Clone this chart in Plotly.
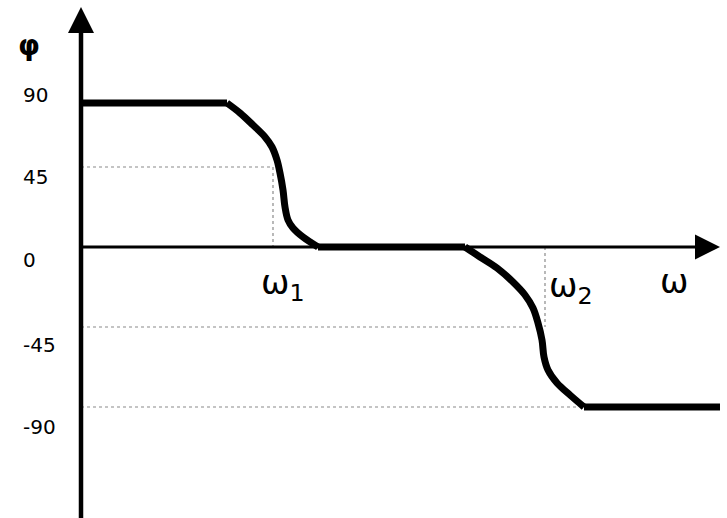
import plotly.graph_objects as go

# ---- data (phase response sketch) ----
# first transition (around omega1)
drop1_w = [146, 159, 172, 184, 191, 196, 199, 202, 204, 207, 212, 222, 237]
drop1_deg = [81, 75.4, 68.6, 61.9, 56.25, 48.9, 41.6, 32.1, 22.5, 15.2, 10.7, 5.6, 0]
# second transition (around omega2)
drop2_w = [384, 399, 416, 432, 444, 452, 457, 461, 463, 467, 476, 489, 503]
drop2_deg = [0, -5.6, -11.8, -19.7, -27, -34.3, -42.75, -52.3, -61.9, -69.2, -76.5, -83.25, -90]
# flat plateaus
high_w = [0, 146]
high_deg = [81, 81]
mid_w = [237, 384]
mid_deg = [0, 0]
low_w = [503, 639]
low_deg = [-90, -90]

omega1 = 192
omega2 = 464
level_pos = 45
level_neg = -45
level_min = -90
guide_neg45_end = 447
guide_neg90_end = 496

tick_labels = ["90", "45", "0", "-45", "-90"]
tick_label_pos = [85.5, 39.4, -7.3, -55.1, -101.25]

FONT = "DejaVu Sans"

fig = go.Figure()

# dotted guide lines
guide_style = dict(color="#8a8a8a", width=1.2, dash="dot")
fig.add_trace(go.Scatter(x=[0, omega1, omega1], y=[level_pos, level_pos, 0],
                         mode="lines", line=guide_style, hoverinfo="skip"))
fig.add_trace(go.Scatter(x=[0, guide_neg45_end], y=[level_neg, level_neg],
                         mode="lines", line=guide_style, hoverinfo="skip"))
fig.add_trace(go.Scatter(x=[omega2, omega2], y=[0, level_neg],
                         mode="lines", line=guide_style, hoverinfo="skip"))
fig.add_trace(go.Scatter(x=[0, guide_neg90_end], y=[level_min, level_min],
                         mode="lines", line=guide_style, hoverinfo="skip"))

# phase curve
for xs, ys, shp in [(high_w, high_deg, "linear"), (drop1_w, drop1_deg, "spline"),
                    (mid_w, mid_deg, "linear"), (drop2_w, drop2_deg, "spline"),
                    (low_w, low_deg, "linear")]:
    line = dict(color="black", width=7, shape=shp)
    if shp == "spline":
        line["smoothing"] = 1.0
    fig.add_trace(go.Scatter(x=xs, y=ys, mode="lines", line=line, hoverinfo="skip"))

shapes = [
    # x axis
    dict(type="line", xref="x", yref="y", x0=0, x1=620, y0=0, y1=0,
         line=dict(color="black", width=3)),
    dict(type="path", xref="x", yref="y", path="M 614 7.0 L 639 0 L 614 -7.0 Z",
         fillcolor="black", line=dict(color="black", width=0)),
    # y axis
    dict(type="line", xref="x", yref="y", x0=0, x1=0, y0=-153, y1=122,
         line=dict(color="black", width=4.5)),
    dict(type="path", xref="x", yref="y", path="M -13 120.4 L 0 135 L 13 120.4 Z",
         fillcolor="black", line=dict(color="black", width=0)),
]

annotations = []
for lab, pos in zip(tick_labels, tick_label_pos):
    annotations.append(dict(x=-60, y=pos, xref="x", yref="y", text=lab,
                            showarrow=False, xanchor="left", yanchor="middle",
                            font=dict(family=FONT, size=20, color="black")))
annotations += [
    dict(x=-52, y=113.6, xref="x", yref="y", text="<b>φ</b>", showarrow=False,
         xanchor="center", yanchor="middle", font=dict(family=FONT, size=28, color="black")),
    dict(x=593, y=-19.1, xref="x", yref="y", text="ω", showarrow=False,
         xanchor="center", yanchor="middle", font=dict(family=FONT, size=34, color="black")),
    dict(x=178, y=-21, xref="x", yref="y", text="ω<sub>1</sub>", showarrow=False,
         xanchor="left", yanchor="middle", font=dict(family=FONT, size=34, color="black")),
    dict(x=466, y=-23, xref="x", yref="y", text="ω<sub>2</sub>", showarrow=False,
         xanchor="left", yanchor="middle", font=dict(family=FONT, size=34, color="black")),
]

fig.update_layout(
    width=727, height=518,
    margin=dict(l=0, r=0, t=0, b=0),
    paper_bgcolor="white", plot_bgcolor="white",
    showlegend=False,
    xaxis=dict(range=[-81, 646], visible=False, fixedrange=True),
    yaxis=dict(range=[-152.44, 138.94], visible=False, fixedrange=True),
    shapes=shapes,
    annotations=annotations,
)

fig.write_html("out.html", config={"displayModeBar": False})

# remove the default page margin so the figure fills the window exactly
with open("out.html", "r", encoding="utf-8") as f:
    html = f.read()
html = html.replace("<body>", '<body style="margin:0;padding:0;overflow:hidden;">', 1)
with open("out.html", "w", encoding="utf-8") as f:
    f.write(html)
